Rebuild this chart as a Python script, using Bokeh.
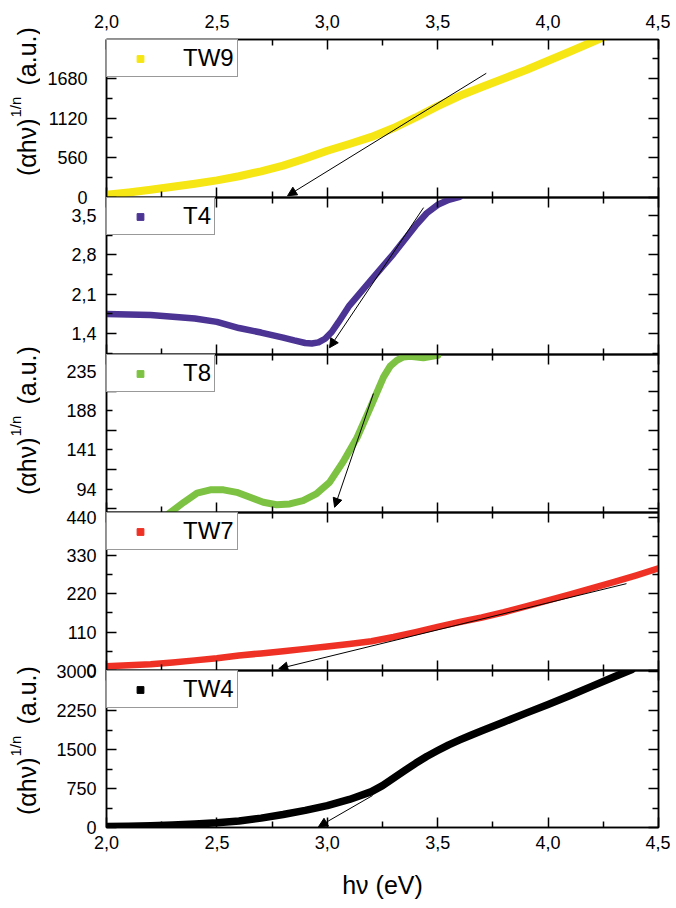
import numpy as np
from bokeh.plotting import figure
from bokeh.models import (Range1d, LinearAxis, FixedTicker, CustomJSTickFormatter,
                          Label, Arrow, NormalHead)
from bokeh.layouts import column, row
from bokeh.embed import file_html
from bokeh.resources import INLINE

# ---------------- data ----------------
x_ticks = [2.0, 2.5, 3.0, 3.5, 4.0, 4.5]
x_minor = [2.25, 2.75, 3.25, 3.75, 4.25]
x_range = [2.0, 4.5]

tw9_x = [2.0, 2.1, 2.2, 2.3, 2.4, 2.5, 2.6, 2.7, 2.8, 2.9, 3.0, 3.1, 3.2, 3.3, 3.4, 3.5,
         3.6, 3.7, 3.8, 3.9, 4.0, 4.1, 4.2, 4.3]
tw9_y = [38, 72, 110, 152, 195, 242, 300, 370, 450, 550, 660, 755, 855, 980, 1130, 1290,
         1435, 1560, 1680, 1800, 1930, 2060, 2195, 2330]
tw9_ticks = [0, 560, 1120, 1680]
tw9_minor = [280, 840, 1400, 1960]
tw9_range = [0, 2230]
tw9_tangent_x = [3.72, 2.82]
tw9_tangent_y = [1753, 25]

t4_x = [2.0, 2.1, 2.2, 2.3, 2.4, 2.5, 2.6, 2.7, 2.8, 2.85, 2.9, 2.93, 2.96, 2.99, 3.02,
        3.05, 3.1, 3.15, 3.2, 3.3, 3.4, 3.45, 3.5, 3.55, 3.6]
t4_y = [1.75, 1.74, 1.73, 1.70, 1.67, 1.61, 1.50, 1.42, 1.33, 1.28, 1.235, 1.225, 1.245,
        1.31, 1.43, 1.60, 1.90, 2.13, 2.36, 2.82, 3.32, 3.54, 3.69, 3.78, 3.83]
t4_ticks = [1.4, 2.1, 2.8, 3.5]
t4_minor = [1.05, 1.75, 2.45, 3.15]
t4_range = [1.03, 3.82]
t4_tangent_x = [3.436, 3.01]
t4_tangent_y = [3.64, 1.15]

t8_x = [2.27, 2.29, 2.35, 2.41, 2.47, 2.53, 2.59, 2.65, 2.71, 2.77, 2.83, 2.89, 2.95, 3.01,
        3.07, 3.135, 3.195, 3.255, 3.285, 3.315, 3.345, 3.375, 3.435, 3.50]
t8_y = [62, 66, 78, 89, 93, 93, 90, 84, 78, 75, 76, 80, 88, 102, 126, 156, 192, 229, 242,
        249, 253, 254, 252, 255]
t8_ticks = [94, 141, 188, 235]
t8_minor = [70.5, 117.5, 164.5, 211.5]
t8_range = [65.7, 256]
t8_tangent_x = [3.209, 3.033]
t8_tangent_y = [209, 72]

tw7_x = [2.0, 2.1, 2.2, 2.3, 2.4, 2.5, 2.6, 2.7, 2.8, 2.9, 3.0, 3.1, 3.2, 3.3, 3.4, 3.5,
         3.6, 3.7, 3.8, 3.9, 4.0, 4.1, 4.2, 4.3, 4.4, 4.5]
tw7_y = [12, 15, 18, 23, 29, 35, 43, 49, 55, 62, 69, 76, 84, 96, 110, 125, 139, 152, 167,
         184, 201, 218, 236, 254, 273, 293]
tw7_ticks = [0, 110, 220, 330, 440]
tw7_minor = [55, 165, 275, 385]
tw7_range = [0, 453]
tw7_tangent_x = [4.355, 2.78]
tw7_tangent_y = [249, 5]

tw4_x = [2.0, 2.1, 2.2, 2.3, 2.4, 2.5, 2.6, 2.7, 2.8, 2.9, 3.0, 3.1, 3.2, 3.25, 3.3, 3.35,
         3.4, 3.45, 3.5, 3.55, 3.6, 3.65, 3.7, 3.8, 3.9, 4.0, 4.1, 4.2, 4.3, 4.38]
tw4_y = [20, 25, 32, 48, 65, 90, 125, 180, 250, 330, 420, 540, 690, 805, 950, 1095, 1235,
         1365, 1480, 1590, 1685, 1775, 1860, 2030, 2200, 2365, 2540, 2720, 2900, 3040]
tw4_ticks = [0, 750, 1500, 2250, 3000]
tw4_minor = [375, 1125, 1875, 2625]
tw4_range = [0, 3020]
tw4_tangent_x = [3.205, 2.96]
tw4_tangent_y = [615, 15]

FONT = "Liberation Sans"
FRAME_W = 552
BORDER = 24
LABEL_COL_W = 40
TOP_BORDER = 39
BOTTOM_BORDER = 80
FRAME_HS = [158, 157, 158, 158, 157]

fmt1 = CustomJSTickFormatter(code="return tick.toFixed(1).replace('.', ',')")
fmt0 = CustomJSTickFormatter(code="return tick.toFixed(0)")
fmt_none = CustomJSTickFormatter(code="return ''")


def style_axis(ax, show, standoff, major_in=10, minor_in=6):
    ax.major_tick_in = major_in
    ax.major_tick_out = 0
    ax.minor_tick_in = minor_in
    ax.minor_tick_out = 0
    ax.axis_line_color = "black"
    ax.axis_line_width = 1.5
    ax.major_tick_line_color = "black"
    ax.minor_tick_line_color = "black"
    ax.major_tick_line_width = 1.5
    ax.minor_tick_line_width = 1.5
    ax.major_label_text_font = FONT
    ax.major_label_text_color = "black"
    ax.major_label_text_font_size = "18px"
    ax.major_label_standoff = standoff if show else 0


def panel(name, xs, ys, color, lw, yr, yticks, yminor, fmt, tang_x, tang_y, frame_h,
          top=False, bottom=False, left_standoff=10, swap=False):
    p = figure(frame_width=FRAME_W, frame_height=frame_h,
               x_range=Range1d(*x_range), y_range=Range1d(*yr),
               output_backend="svg", toolbar_location=None,
               x_axis_location=None, y_axis_location=None,
               min_border_left=106 - LABEL_COL_W, min_border_right=12,
               min_border_top=TOP_BORDER if top else BORDER,
               min_border_bottom=BOTTOM_BORDER if bottom else BORDER,
               border_fill_color=None, background_fill_color=None,
               outline_line_color="black", outline_line_width=1.5)
    if not top:
        p.styles = {"margin-top": f"-{2 * BORDER}px"}
    for g in p.grid:
        g.visible = False

    # x axes
    for side, show, so in (("below", bottom, 8), ("above", top, 12)):
        ax = LinearAxis(ticker=FixedTicker(ticks=x_ticks, minor_ticks=x_minor),
                        formatter=fmt1 if show else fmt_none)
        style_axis(ax, show, so)
        if side == "below" and bottom:
            ax.axis_label = "hν (eV)"
            ax.axis_label_text_font = FONT
            ax.axis_label_text_font_size = "25px"
            ax.axis_label_text_font_style = "normal"
            ax.axis_label_text_color = "black"
            ax.axis_label_standoff = 19
        p.add_layout(ax, side)
    # y axes
    for side, show in (("left", True), ("right", False)):
        ax = LinearAxis(ticker=FixedTicker(ticks=yticks, minor_ticks=yminor),
                        formatter=fmt if show else fmt_none)
        if swap:
            style_axis(ax, show, left_standoff, major_in=6, minor_in=10)
        else:
            style_axis(ax, show, left_standoff)
        p.add_layout(ax, side)

    p.scatter(xs, ys, marker="square", size=3, color=color, legend_label=name)
    p.line(xs, ys, line_width=lw, color=color, line_join="round", line_cap="round")

    p.add_layout(Arrow(end=NormalHead(size=9, fill_color="black", line_color="black",
                                      line_width=1),
                       x_start=tang_x[0], y_start=tang_y[0],
                       x_end=tang_x[1], y_end=tang_y[1],
                       line_color="black", line_width=1))

    lg = p.legend[0]
    lg.location = "top_left"
    lg.margin = 0
    lg.padding = 3
    lg.spacing = 0
    lg.glyph_width = 60
    lg.glyph_height = 17
    lg.label_height = 30
    lg.label_standoff = 13
    lg.label_text_font = FONT
    lg.label_text_font_size = "24px"
    lg.label_text_color = "black"
    lg.border_line_color = "#333333"
    lg.border_line_width = 1
    lg.background_fill_color = "white"
    lg.background_fill_alpha = 1
    return p


p1 = panel("TW9", tw9_x, tw9_y, "#F5E614", 8, tw9_range, tw9_ticks, tw9_minor, fmt0,
           tw9_tangent_x, tw9_tangent_y, FRAME_HS[0], top=True, left_standoff=19)
p2 = panel("T4", t4_x, t4_y, "#4B3494", 6.5, t4_range, t4_ticks, t4_minor, fmt1,
           t4_tangent_x, t4_tangent_y, FRAME_HS[1])
p3 = panel("T8", t8_x, t8_y, "#7DC242", 7, t8_range, t8_ticks, t8_minor, fmt0,
           t8_tangent_x, t8_tangent_y, FRAME_HS[2], swap=True)
p4 = panel("TW7", tw7_x, tw7_y, "#EE3124", 6.5, tw7_range, tw7_ticks, tw7_minor, fmt0,
           tw7_tangent_x, tw7_tangent_y, FRAME_HS[3])
p5 = panel("TW4", tw4_x, tw4_y, "#000000", 7.5, tw4_range, tw4_ticks, tw4_minor, fmt0,
           tw4_tangent_x, tw4_tangent_y, FRAME_HS[4], bottom=True)

# ---- column of y-axis titles (left of the panels) ----
total_h = TOP_BORDER + sum(FRAME_HS) + BOTTOM_BORDER
lab = figure(frame_width=LABEL_COL_W, frame_height=total_h,
             x_range=Range1d(0, LABEL_COL_W), y_range=Range1d(total_h, 0),
             output_backend="svg", toolbar_location=None,
             x_axis_location=None, y_axis_location=None,
             min_border=0, outline_line_color=None,
             border_fill_color=None, background_fill_color=None)
for g in lab.grid:
    g.visible = False

frame_bottoms = [TOP_BORDER + sum(FRAME_HS[:k + 1]) for k in range(5)]
# (panel index, distance of the end of "(αhν)" above that panel's bottom)
ylabel_panels = [(0, 79), (2, 75), (4, 70)]
common = dict(angle=np.pi / 2, text_baseline="middle", text_font=FONT, text_color="black")
for k, off in ylabel_panels:
    a = frame_bottoms[k] - off
    lab.add_layout(Label(x=26, y=a, text="(αhν)", text_align="right",
                         text_font_size="25px", **common))
    lab.add_layout(Label(x=15, y=a - 1, text="1/n", text_align="left",
                         text_font_size="15px", **common))
    lab.add_layout(Label(x=26, y=a - 33, text="(a.u.)", text_align="left",
                         text_font_size="25px", **common))

layout = row(lab, column(p1, p2, p3, p4, p5, spacing=0), spacing=0)

open("out.html", "w").write(file_html(layout, INLINE, "chart"))
